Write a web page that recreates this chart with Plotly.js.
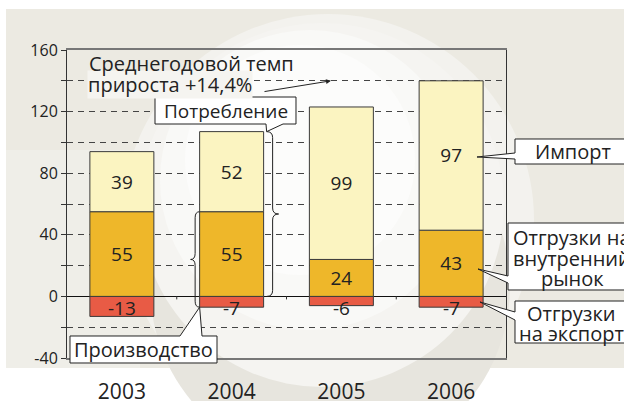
<!DOCTYPE html>
<html><head><meta charset="utf-8">
<script src="https://cdn.plot.ly/plotly-3.0.1.min.js"></script>
<style>html,body{margin:0;padding:0;background:#fff}</style>
</head><body><div id="chart" style="width:624px;height:401px"></div>
<script>
// ---------- data ----------
const years = ['2003', '2004', '2005', '2006'];
const exportVals = [-13, -7, -6, -7];      // Отгрузки на экспорт
const domesticVals = [55, 55, 24, 43];     // Отгрузки на внутренний рынок
const importVals = [39, 52, 99, 97];       // Импорт
const yTickVals = [-40, -20, 0, 20, 40, 60, 80, 100, 120, 140, 160];
const yTickText = ['-40', '', '0', '', '40', '', '80', '', '120', '', '160'];
const growthLines = ['Среднегодовой темп', 'прироста +14,4%'];
const growthTarget = 140;
const txtConsumption = 'Потребление';
const txtProduction = 'Производство';
const txtImport = 'Импорт';
const txtDomestic = ['Отгрузки на', 'внутренний', 'рынок'];
const txtExport = ['Отгрузки', 'на экспорт'];

// ---------- geometry helpers (pixels -> paper) ----------
const W = 624, H = 401, L = 67, R = 506, T = 50, B = 358, YMIN = -40, YMAX = 160;
const px = x => (x - L) / (R - L);
const py = y => (B - y) / (B - T);
const vy = v => B - (v - YMIN) / (YMAX - YMIN) * (B - T);
const catX = i => L + (i + 0.5) * (R - L) / years.length;
const FONT = 'Open Sans, Noto Sans, sans-serif';
const TXT = '#222';

function poly(pts) {
  return 'M' + pts.map(p => px(p[0]).toFixed(5) + ',' + py(p[1]).toFixed(5)).join(' L') + ' Z';
}
function brace(x0, top, bot, r) {
  const mid = (top + bot) / 2;
  const P = (x, y) => px(x).toFixed(5) + ',' + py(y).toFixed(5);
  return 'M' + P(x0, top) +
    ' Q' + P(x0 + r, top) + ' ' + P(x0 + r, top + 6) +
    ' L' + P(x0 + r, mid - 6) +
    ' Q' + P(x0 + r, mid) + ' ' + P(x0 + 2 * r, mid) +
    ' Q' + P(x0 + r, mid) + ' ' + P(x0 + r, mid + 6) +
    ' L' + P(x0 + r, bot - 6) +
    ' Q' + P(x0 + r, bot) + ' ' + P(x0, bot);
}

const colors = {exp: '#E85B45', dom: '#EEB72A', imp: '#FBF4C1'};
const edge = {color: '#3a3a3a', width: 1};

const traces = [
  {type: 'bar', name: 'Отгрузки на экспорт', x: years, y: exportVals,
   marker: {color: colors.exp, line: edge}, hoverinfo: 'skip'},
  {type: 'bar', name: 'Отгрузки на внутренний рынок', x: years, y: domesticVals,
   marker: {color: colors.dom, line: edge}, hoverinfo: 'skip',
   text: domesticVals.map(String), textposition: 'inside', insidetextanchor: 'middle',
   textfont: {family: FONT, size: 19, color: TXT}},
  {type: 'bar', name: 'Импорт', x: years, y: importVals,
   marker: {color: colors.imp, line: edge}, hoverinfo: 'skip',
   text: importVals.map(String), textposition: 'inside', insidetextanchor: 'middle',
   textfont: {family: FONT, size: 19, color: TXT}}
];

// ---------- shapes ----------
const shapes = [];
shapes.push({type: 'rect', xref: 'paper', yref: 'paper', layer: 'below',
  x0: px(6), x1: px(630), y0: py(9), y1: py(368), fillcolor: '#ECEAE2', line: {width: 0}});
shapes.push({type: 'rect', xref: 'paper', yref: 'paper', layer: 'below',
  x0: px(6), x1: px(140), y0: py(150), y1: py(368), fillcolor: '#F0EFEA', line: {width: 0}, opacity: 0.8});
const disc = (cx, cy, r, c) => ({type: 'circle', xref: 'paper', yref: 'paper', layer: 'below',
  x0: px(cx - r), x1: px(cx + r), y0: py(cy + r), y1: py(cy - r), fillcolor: c, line: {width: 0}});
shapes.push(disc(328, 220, 206, '#F3F2EE'));
shapes.push(disc(330, 286, 180, '#E7E5DE'));
shapes.push(disc(322, 205, 182, '#F5F4F1'));
shapes.push(disc(310, 180, 150, '#F9F9F7'));
shapes.push(disc(300, 160, 115, '#FCFCFB'));
// x tick marks on zero line between categories
for (let i = 0; i < years.length - 1; i++) {
  const xb = (catX(i) + catX(i + 1)) / 2;
  shapes.push({type: 'line', xref: 'paper', yref: 'paper', x0: px(xb), x1: px(xb),
    y0: py(vy(0)), y1: py(vy(0) + 3), line: {color: '#333', width: 1}});
}
// braces
const consTop = vy(domesticVals[1] + importVals[1]);
const bx1 = catX(1) + 35;
shapes.push({type: 'path', xref: 'paper', yref: 'paper', layer: 'above',
  path: brace(bx1, consTop, vy(0), 6), line: {color: '#222', width: 1}});
const prodTop = vy(domesticVals[1]);
const prodBot = vy(exportVals[1]);
const bx2 = catX(1) - 32;
shapes.push({type: 'path', xref: 'paper', yref: 'paper', layer: 'above',
  path: brace(bx2, prodTop, prodBot, -4.5), line: {color: '#222', width: 1}});
// callout boxes
const boxStyle = {type: 'path', xref: 'paper', yref: 'paper', layer: 'above',
  fillcolor: '#FFFFFF', line: {color: '#222', width: 1}};
shapes.push(Object.assign({}, boxStyle, {path: poly([[155, 97], [296, 97], [296, 124], [283, 124],
  [bx1, consTop], [266, 124], [155, 124]])}));
shapes.push(Object.assign({}, boxStyle, {path: poly([[70, 336], [180, 336], [bx2, prodBot],
  [202, 336], [217, 336], [217, 363], [70, 363]])}));
shapes.push(Object.assign({}, boxStyle, {path: poly([[515, 139], [700, 139], [700, 164], [515, 164],
  [515, 159], [477, 157], [515, 153]])}));
shapes.push(Object.assign({}, boxStyle, {path: poly([[508, 223], [700, 223], [700, 290], [508, 290],
  [508, 283], [478, 269], [508, 276]])}));
shapes.push(Object.assign({}, boxStyle, {path: poly([[515, 301], [700, 301], [700, 343], [515, 343],
  [515, 320], [480, 302], [515, 312]])}));

// ---------- annotations ----------
const ann = [];
const tfont = (s) => ({family: FONT, size: s, color: TXT});
const note = (x, y, text, size, extra) => Object.assign({xref: 'paper', yref: 'paper',
  x: px(x), y: py(y), xanchor: 'center', yanchor: 'middle', text: text, showarrow: false,
  font: tfont(size)}, extra || {});
ann.push(note(87, 84, growthLines[1], 20, {xanchor: 'left', bgcolor: '#F5F4F0', borderpad: 0}));
ann.push(note(87, 63, growthLines[0], 20, {xanchor: 'left'}));
ann.push({xref: 'paper', yref: 'y', x: px(331), y: growthTarget, text: '', showarrow: true,
  ax: -68, ay: 11, arrowhead: 2, arrowsize: 1, arrowwidth: 1, arrowcolor: '#222', standoff: 0});
ann.push(note(225.5, 110.5, txtConsumption, 19));
ann.push(note(143.5, 349.5, txtProduction, 20));
ann.push(note(573, 151.5, txtImport, 20));
[237, 258, 278].forEach((yy, k) => ann.push(note(572, yy, txtDomestic[k], 20)));
[313, 333].forEach((yy, k) => ann.push(note(571, yy, txtExport[k], 20)));
years.forEach((yr, i) => {
  ann.push(note(catX(i), vy(-7.5), String(exportVals[i]), 19));
});

const layout = {
  width: W, height: H,
  margin: {l: L, r: W - R, t: T, b: H - B, pad: 0},
  paper_bgcolor: '#FFFFFF', plot_bgcolor: 'rgba(0,0,0,0)',
  barmode: 'relative', bargap: 0.417,
  showlegend: false,
  font: {family: FONT, color: TXT},
  xaxis: {type: 'category', categoryorder: 'array', categoryarray: years,
    range: [-0.5, years.length - 0.5], autorange: false,
    showline: true, linecolor: '#777', linewidth: 2, mirror: true,
    ticks: '', showgrid: false, zeroline: false,
    tickfont: {family: FONT, size: 21, color: TXT}, ticklabelstandoff: 14},
  yaxis: {range: [YMIN, YMAX], autorange: false, tickvals: yTickVals, ticktext: yTickText,
    ticks: 'outside', ticklen: 5, tickwidth: 1, tickcolor: '#333',
    showgrid: true, gridcolor: '#444', gridwidth: 1, griddash: '6px,5px',
    zeroline: true, zerolinecolor: '#111', zerolinewidth: 1,
    showline: true, linecolor: '#333', linewidth: 1, mirror: true,
    tickfont: {family: FONT, size: 16, color: TXT}},
  shapes: shapes,
  annotations: ann
};

Plotly.newPlot('chart', traces, layout, {staticPlot: true, displayModeBar: false});
</script>
</body></html>
